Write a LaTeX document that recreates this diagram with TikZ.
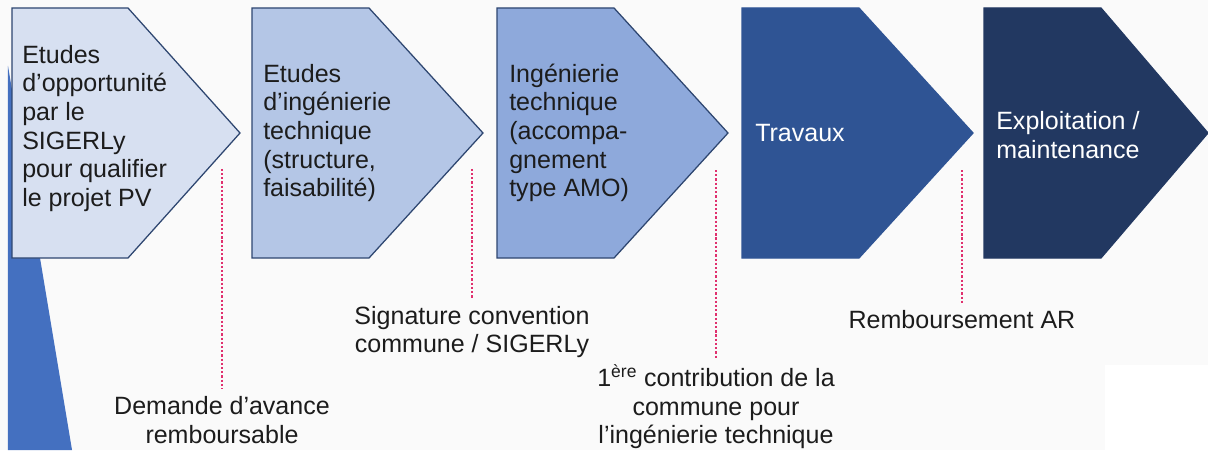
\documentclass[tikz,border=0pt]{standalone}
\usepackage{fontspec}
\setmainfont{Liberation Sans}
\usepackage{tkz-euclide}

\definecolor{phaseA}{HTML}{D7E0F1}
\definecolor{phaseB}{HTML}{B4C6E6}
\definecolor{phaseC}{HTML}{8EA9DB}
\definecolor{phaseD}{HTML}{2F5494}
\definecolor{phaseE}{HTML}{223861}
\definecolor{edgeblue}{HTML}{2E4670}
\definecolor{wedgeblue}{HTML}{4470C0}
\definecolor{dotpink}{HTML}{E0306E}
\definecolor{textdark}{HTML}{1C1C1C}

\tikzset{
  phase/.style = {draw=edgeblue, line width=0.9pt, line join=miter},
  phasetext/.style = {anchor=west, align=left, inner sep=0pt,
    font=\fontsize{17.8}{20.4}\selectfont, text=textdark},
  milestone/.style = {align=center, inner sep=5pt,
    font=\fontsize{17.8}{20.4}\selectfont, text=textdark},
  pinkdots/.style = {draw=dotpink, line width=1.7pt, dash pattern=on 1.6pt off 1.4pt}
}

\begin{document}
\begin{tikzpicture}
    \useasboundingbox (0,0) rectangle (30.2,11.25);
    \fill[black!2] (0,0) rectangle (30.2,11.25);
    \fill[white] (27.625,0) rectangle (30.2,2.125);
    % blue wedge on the left
    \tkzDefPoints{0.2/9.6/W1, 0.2/0/W2, 1.8/0/W3}
    \fill[wedgeblue] (W1) -- (W2) -- (W3) -- cycle;
    % the five phases
    \tkzDefPoints{0.3/4.8/A1, 3.2/4.8/B1, 6.0/7.925/C1, 3.2/11.05/D1, 0.3/11.05/E1}
    \tkzDefPoints{6.3/4.8/A2, 9.225/4.8/B2, 12.075/7.925/C2, 9.225/11.05/D2, 6.3/11.05/E2}
    \tkzDefPoints{12.425/4.8/A3, 15.35/4.8/B3, 18.2/7.925/C3, 15.35/11.05/D3, 12.425/11.05/E3}
    \tkzDefPoints{18.55/4.8/A4, 21.475/4.8/B4, 24.325/7.925/C4, 21.475/11.05/D4, 18.55/11.05/E4}
    \tkzDefPoints{24.6/4.8/A5, 27.525/4.8/B5, 30.2/7.925/C5, 27.525/11.05/D5, 24.6/11.05/E5}
    \tkzDrawPolygon[phase, fill=phaseA](A1,B1,C1,D1,E1)
    \tkzDrawPolygon[phase, fill=phaseB](A2,B2,C2,D2,E2)
    \tkzDrawPolygon[phase, fill=phaseC](A3,B3,C3,D3,E3)
    \tkzDrawPolygon[phase, draw=phaseD, fill=phaseD](A4,B4,C4,D4,E4)
    \tkzDrawPolygon[phase, draw=phaseE, fill=phaseE](A5,B5,C5,D5,E5)
    \node[phasetext] (t1) at (0.55,8.04) {Etudes\\d’opportunité\\par le\\SIGERLy\\pour qualifier\\le projet PV};
    \node[phasetext] (t2) at (6.575,7.925) {Etudes\\d’ingénierie\\technique\\(structure,\\faisabilité)};
    \node[phasetext] (t3) at (12.725,7.925) {Ingénierie\\technique\\(accompa-\\gnement\\type AMO)};
    \node[phasetext, text=white] (t4) at (18.875,7.925) {Travaux};
    \node[phasetext, text=white] (t5) at (24.9,7.875) {Exploitation /\\maintenance};
    % milestones below
    \tkzDefPoints{5.55/7.03/P1, 11.8/7.03/P2, 17.9/7.0/P3, 24.05/7.0/P4}
    \node[milestone] (m1) at (5.55,0.75) {Demande d’avance\\remboursable};
    \node[milestone] (m2) at (11.8,2.95) {Signature convention\\commune / SIGERLy};
    \node[milestone] (m3) at (17.9,1.075) {1\textsuperscript{ère} contribution de la\\commune pour\\l’ingénierie technique};
    \node[milestone] (m4) at (24.05,3.25) {Remboursement AR};
    \draw[pinkdots] (P1) -- (m1.north);
    \draw[pinkdots] (P2) -- (m2.north);
    \draw[pinkdots] (P3) -- (m3.north);
    \draw[pinkdots] (P4) -- (m4.north);
\end{tikzpicture}
\end{document}
